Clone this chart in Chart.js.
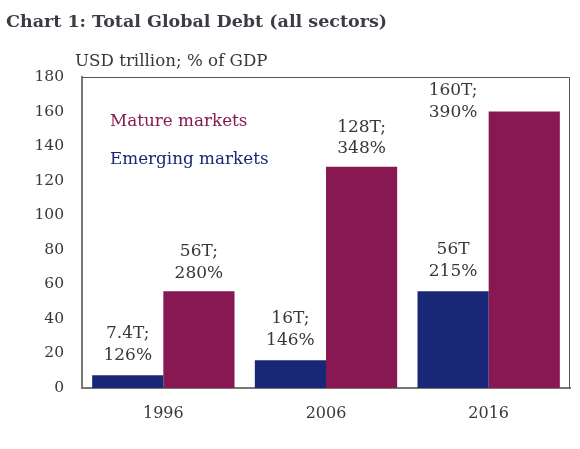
<!DOCTYPE html>
<html>
<head>
<meta charset="utf-8">
<script src="https://cdn.jsdelivr.net/npm/chart.js@4.4.1/dist/chart.umd.min.js"></script>
<style>
html,body{margin:0;padding:0;background:#fff;}
#wrap{width:580px;height:449px;position:relative;}
</style>
</head>
<body>
<div id="wrap"><canvas id="c" width="580" height="449"></canvas></div>
<script>
// ---- data ----
const categories = ["1996", "2006", "2016"];
const emergingValues = [7.4, 16, 56];
const matureValues = [56, 128, 160];
const emergingLabels = [["7.4T;", "126%"], ["16T;", "146%"], ["56T", "215%"]];
const matureLabels = [["56T;", "280%"], ["128T;", "348%"], ["160T;", "390%"]];
const seriesNames = ["Emerging markets", "Mature markets"];
const yTicks = [0, 20, 40, 60, 80, 100, 120, 140, 160, 180];
const titleText = "Chart 1: Total Global Debt (all sectors)";
const unitText = "USD trillion; % of GDP";

// ---- style ----
const NAVY = "#182876";
const MAROON = "#881852";
const TEXT = "#383838";
const SERIF = "'DejaVu Serif', 'Liberation Serif', serif";

const decor = {
  id: "decor",
  afterDraw(chart) {
    const ctx = chart.ctx;
    const a = chart.chartArea;
    ctx.save();
    // frame (top/right)
    ctx.strokeStyle = "#555";
    ctx.lineWidth = 1;
    ctx.beginPath();
    ctx.moveTo(a.left, a.top + 0.5);
    ctx.lineTo(a.right - 0.5, a.top + 0.5);
    ctx.lineTo(a.right - 0.5, a.bottom);
    ctx.stroke();
    // title
    ctx.fillStyle = "#3c3c46";
    ctx.textBaseline = "middle";
    ctx.textAlign = "left";
    ctx.font = "bold 17.5px " + SERIF;
    ctx.fillText(titleText, 6, 22);
    ctx.fillStyle = TEXT;
    ctx.font = "16.7px " + SERIF;
    ctx.fillText(unitText, 75, 62);
    // legend text inside plot
    ctx.font = "16.8px " + SERIF;
    ctx.fillStyle = MAROON;
    ctx.fillText(seriesNames[1], a.left + 28, a.top + 45);
    ctx.fillStyle = NAVY;
    ctx.fillText(seriesNames[0], a.left + 28, a.top + 83);
    // data labels
    ctx.fillStyle = TEXT;
    ctx.textAlign = "center";
    ctx.font = "17px " + SERIF;
    const m0 = chart.getDatasetMeta(0).data;
    const m1 = chart.getDatasetMeta(1).data;
    const lh = 21.5;
    const draw = (lines, x, yBottom) => {
      for (let i = 0; i < lines.length; i++) {
        ctx.fillText(lines[i], x, yBottom - (lines.length - 1 - i) * lh);
      }
    };
    m0.forEach((b, i) => draw(emergingLabels[i], b.x, b.y - 20));
    m1.forEach((b, i) => {
      if (i === m1.length - 1) {
        // top label sits beside the tallest bar, above the neighbouring bar
        draw(matureLabels[i], m0[i].x, b.y + 1);
      } else {
        draw(matureLabels[i], b.x, b.y - 18);
      }
    });
    ctx.restore();
  }
};

new Chart(document.getElementById("c"), {
  type: "bar",
  data: {
    labels: categories,
    datasets: [
      { label: seriesNames[0], data: emergingValues, backgroundColor: NAVY },
      { label: seriesNames[1], data: matureValues, backgroundColor: MAROON }
    ]
  },
  options: {
    responsive: false,
    animation: false,
    devicePixelRatio: 1,
    layout: { padding: { top: 77, right: 10, left: 0, bottom: 0 } },
    datasets: { bar: { categoryPercentage: 0.875, barPercentage: 1.0 } },
    plugins: { legend: { display: false }, tooltip: { enabled: false }, title: { display: false } },
    scales: {
      x: {
        grid: { display: false, drawTicks: false },
        border: { color: "#777", width: 2 },
        ticks: { color: TEXT, font: { family: SERIF, size: 16 }, padding: 16 },
        afterFit(s) { s.height = 61; }
      },
      y: {
        min: 0, max: 180,
        afterBuildTicks(s) { s.ticks = yTicks.map(v => ({ value: v })); },
        grid: { display: false, drawTicks: false },
        border: { color: "#777", width: 2 },
        ticks: { color: TEXT, font: { family: SERIF, size: 15.5 }, padding: 18 },
        afterFit(s) { s.width = 82; }
      }
    }
  },
  plugins: [decor]
});
</script>
</body>
</html>
